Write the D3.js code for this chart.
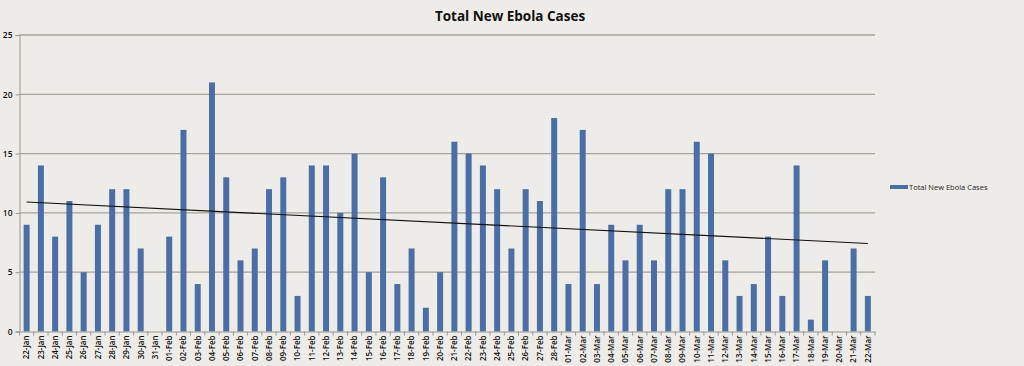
<!DOCTYPE html>
<html><head><meta charset="utf-8">
<script src="https://cdn.jsdelivr.net/npm/d3@7"></script>
<style>body{margin:0;background:#eeece8;}svg{display:block;}</style>
</head><body>
<script>
const categories = ["22-Jan","23-Jan","24-Jan","25-Jan","26-Jan","27-Jan","28-Jan","29-Jan","30-Jan","31-Jan",
"01-Feb","02-Feb","03-Feb","04-Feb","05-Feb","06-Feb","07-Feb","08-Feb","09-Feb","10-Feb","11-Feb","12-Feb","13-Feb","14-Feb","15-Feb","16-Feb","17-Feb","18-Feb","19-Feb","20-Feb","21-Feb","22-Feb","23-Feb","24-Feb","25-Feb","26-Feb","27-Feb","28-Feb",
"01-Mar","02-Mar","03-Mar","04-Mar","05-Mar","06-Mar","07-Mar","08-Mar","09-Mar","10-Mar","11-Mar","12-Mar","13-Mar","14-Mar","15-Mar","16-Mar","17-Mar","18-Mar","19-Mar","20-Mar","21-Mar","22-Mar"];
const newCases = [9,14,8,11,5,9,12,12,7,0,
8,17,4,21,13,6,7,12,13,3,14,14,10,15,5,13,4,7,2,5,16,15,14,12,7,12,11,18,
4,17,4,9,6,9,6,12,12,16,15,6,3,4,8,3,14,1,6,0,7,3];
const yTicks = [0,5,10,15,20,25];
const title = "Total New Ebola Cases";
const seriesName = "Total New Ebola Cases";

const W=1024,H=366;
const svg=d3.select("body").append("svg").attr("width",W).attr("height",H);
svg.append("rect").attr("width",W).attr("height",H).attr("fill","#eeece8");
const pL=19.5,pR=875,pT=35,pB=331.5;
const x=d3.scaleBand().domain(categories).range([pL,pR]).paddingInner(0.58).paddingOuter(0.29);
const y=d3.scaleLinear().domain([0,25]).range([pB,pT]);

// gridlines
svg.append("g").selectAll("line").data(yTicks.slice(1)).join("line")
 .attr("x1",pL).attr("x2",pR).attr("y1",d=>y(d)).attr("y2",d=>y(d))
 .attr("stroke","#a8a29c").attr("stroke-width",1.3);

// bars
svg.append("g").selectAll("rect").data(newCases).join("rect")
 .attr("x",(d,i)=>x(categories[i])).attr("width",x.bandwidth())
 .attr("y",d=>y(d)).attr("height",d=>y(0)-y(d)).attr("fill","#4b6ea6");

// y axis
const ya=svg.append("g").attr("transform",`translate(${pL},0)`)
 .call(d3.axisLeft(y).tickValues(yTicks).tickSize(4).tickPadding(3));
ya.select(".domain").attr("stroke","#9a948e");
ya.selectAll(".tick line").attr("stroke","#9a948e");
ya.selectAll("text").attr("font-family","Open Sans, sans-serif").attr("font-size",8.5).attr("font-weight",600).attr("fill","#111");

// x axis
const xa=svg.append("g").attr("transform",`translate(0,${pB})`)
 .call(d3.axisBottom(x).tickSize(0).tickPadding(4));
xa.select(".domain").attr("stroke","#9a948e");
xa.selectAll(".tick text").attr("font-family","Open Sans, sans-serif").attr("font-size",8).attr("font-weight",600).attr("fill","#111")
 .attr("transform","rotate(-90)").attr("text-anchor","end").attr("dx","-4").attr("dy","0.35em").attr("y",0).attr("x",0);
// category separators
svg.append("g").selectAll("line").data(d3.range(categories.length+1)).join("line")
 .attr("x1",d=>pL+d*(pR-pL)/categories.length).attr("x2",d=>pL+d*(pR-pL)/categories.length)
 .attr("y1",pB).attr("y2",pB+4).attr("stroke","#9a948e");

// linear trendline from data
const n=newCases.length, xs=d3.range(n);
const mx=d3.mean(xs), my=d3.mean(newCases);
const slope=d3.sum(xs,i=>(i-mx)*(newCases[i]-my))/d3.sum(xs,i=>(i-mx)*(i-mx));
const icpt=my-slope*mx;
const cx=i=>x(categories[i])+x.bandwidth()/2;
svg.append("line").attr("x1",cx(0)).attr("y1",y(icpt)).attr("x2",cx(n-1)).attr("y2",y(icpt+slope*(n-1)))
 .attr("stroke","#111").attr("stroke-width",1.1);

// title
svg.append("text").attr("x",510).attr("y",21).attr("text-anchor","middle")
 .attr("font-family","Open Sans, sans-serif").attr("font-weight","bold").attr("font-size",13.5).attr("fill","#111").text(title);

// legend
svg.append("rect").attr("x",890).attr("y",185).attr("width",18).attr("height",4).attr("fill","#4b6ea6");
svg.append("text").attr("x",909).attr("y",190).attr("font-family","Open Sans, sans-serif").attr("font-size",7.5).attr("fill","#222").text(seriesName);
</script>
</body></html>
